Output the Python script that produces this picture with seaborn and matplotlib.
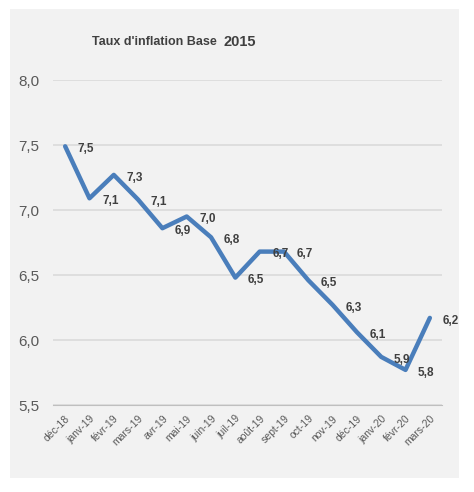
import matplotlib
matplotlib.use('Agg')
import matplotlib.pyplot as plt
from matplotlib.patches import Rectangle
import seaborn as sns
import pandas as pd

# data
months = ['déc-18', 'janv-19', 'févr-19', 'mars-19', 'avr-19', 'mai-19', 'juin-19', 'juil-19',
          'août-19', 'sept-19', 'oct-19', 'nov-19', 'déc-19', 'janv-20', 'févr-20', 'mars-20']
inflation = [7.49, 7.09, 7.27, 7.08, 6.86, 6.95, 6.79, 6.48,
             6.68, 6.68, 6.46, 6.27, 6.06, 5.87, 5.77, 6.17]
labels = ['7,5', '7,1', '7,3', '7,1', '6,9', '7,0', '6,8', '6,5',
          '6,7', '6,7', '6,5', '6,3', '6,1', '5,9', '5,8', '6,2']
yticks = [5.5, 6.0, 6.5, 7.0, 7.5, 8.0]

df = pd.DataFrame({'mois': months, 'taux': inflation})

sns.set_style('white')
plt.rcParams['font.family'] = ['Liberation Sans', 'DejaVu Sans']

fig = plt.figure(figsize=(4.74, 4.92), dpi=100)
fig.patch.set_facecolor('white')
# grey chart area with white margin
fig.patches.append(Rectangle((10 / 474, 1 - 478 / 492), 449 / 474, 469 / 492,
                             transform=fig.transFigure, facecolor='#f2f2f2',
                             edgecolor='none', zorder=-5))

ax = fig.add_axes([53 / 474, 1 - 405 / 492, 389 / 474, 325 / 492])
ax.set_facecolor('none')
ax.set_zorder(2)

sns.lineplot(data=df, x='mois', y='taux', ax=ax, color='#4a7ebb', linewidth=3.2,
             sort=False, zorder=3)

# data labels
for i, (v, lab) in enumerate(zip(inflation, labels)):
    ax.annotate(lab, (i, v), xytext=(15, -2), textcoords='offset points',
                ha='center', va='center', fontsize=8.5, fontweight='bold',
                color='#404040')

ax.set_xlim(-0.5, len(months) - 0.5)
ax.set_ylim(5.5, 8.0)
ax.set_yticks(yticks)
ax.set_yticklabels([f'{t:.1f}'.replace('.', ',') for t in yticks],
                   fontsize=11, color='#595959')
ax.tick_params(axis='y', length=0, pad=10)
ax.grid(axis='y', color='#d9d9d9', linewidth=1.1)
ax.set_axisbelow(True)

ax.set_xticks(range(len(months)))
ax.set_xticklabels(months, rotation=45, ha='right', rotation_mode='anchor',
                   fontsize=7.5, color='#595959')
ax.set_xticks([i - 0.5 for i in range(len(months) + 1)], minor=True)
ax.tick_params(axis='x', which='major', length=0, pad=6)
ax.tick_params(axis='x', which='minor', length=4, color='#bfbfbf', width=1)

for s in ['top', 'right', 'left']:
    ax.spines[s].set_visible(False)
ax.spines['bottom'].set_color('#bfbfbf')
ax.set_xlabel('')
ax.set_ylabel('')

# title in two parts, "2015" a bit larger
t1 = fig.text(92 / 474, 1 - 42 / 492, "Taux d'inflation Base  ", fontsize=9,
              fontweight='bold', color='#404040', va='center', ha='left')
ax.annotate("2015", xy=(1, 0.5), xycoords=t1, va='center', ha='left',
            fontsize=10.5, fontweight='bold', color='#404040',
            annotation_clip=False)

fig.savefig('out.png', dpi=100, facecolor='white')
